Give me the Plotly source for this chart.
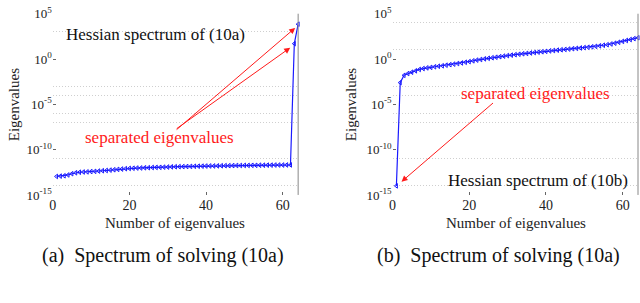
import plotly.graph_objects as go

# ---- data ----
n_eig = list(range(1, 65))

eig_10a = [1.1e-13, 1.2e-13, 1.3e-13, 1.6e-13, 2.2e-13, 2.8e-13, 3.2e-13, 3.4e-13,
           3.5e-13, 3.8e-13, 4.0e-13, 4.3e-13, 4.7e-13, 5.0e-13, 5.5e-13, 6.0e-13,
           6.6e-13, 7.2e-13, 7.9e-13, 8.5e-13, 8.9e-13, 9.3e-13, 9.5e-13, 1.0e-12,
           1.02e-12, 1.07e-12, 1.1e-12, 1.12e-12, 1.17e-12, 1.2e-12, 1.26e-12, 1.29e-12,
           1.32e-12, 1.35e-12, 1.38e-12, 1.41e-12, 1.45e-12, 1.48e-12, 1.51e-12, 1.55e-12,
           1.58e-12, 1.58e-12, 1.62e-12, 1.66e-12, 1.70e-12, 1.70e-12, 1.74e-12, 1.78e-12,
           1.78e-12, 1.82e-12, 1.82e-12, 1.86e-12, 1.86e-12, 1.91e-12, 1.91e-12, 1.95e-12,
           1.95e-12, 2.0e-12, 2.0e-12, 2.0e-12, 2.04e-12, 2.04e-12, 50.0, 7.0e3]

eig_10b = [1.0e-14, 2.5e-3, 1.6e-2, 2.5e-2, 3.5e-2, 5.0e-2, 7.1e-2, 8.9e-2,
           0.105, 0.12, 0.14, 0.16, 0.18, 0.21, 0.24, 0.275,
           0.32, 0.37, 0.44, 0.52, 0.63, 0.76, 0.89, 1.05,
           1.2, 1.38, 1.58, 1.82, 2.09, 2.4, 2.69, 3.02,
           3.39, 3.8, 4.17, 4.68, 5.25, 5.75, 6.31, 7.08,
           7.94, 8.71, 9.55, 10.5, 11.5, 12.6, 13.8, 15.1,
           16.6, 18.2, 20.0, 22.4, 25.1, 28.8, 33.1, 38.0,
           45.7, 56.2, 70.8, 89.1, 112.0, 141.0, 178.0, 224.0]

x_ticks = [0, 20, 40, 60]
y_ticks = [1e5, 1e0, 1e-5, 1e-10, 1e-15]
y_tick_text = ["10<sup>5</sup>", "10<sup>0</sup>", "10<sup>-5</sup>",
               "10<sup>-10</sup>", "10<sup>-15</sup>"]
minor_10a = [1e3, 1e-3, 1e-4, 1e-6, 1e-7, 1e-11, 1e-14]
minor_10b = [1e4, 1e1, 1e-3, 1e-4, 1e-6, 1e-7, 1e-11, 1e-14]

FONT = "Liberation Serif"
BLUE = "#1a1aff"
RED = "#ff1a1a"

fig = go.Figure()
for eig, xa, ya in [(eig_10a, "x", "y"), (eig_10b, "x2", "y2")]:
    fig.add_trace(go.Scatter(
        x=n_eig, y=eig, xaxis=xa, yaxis=ya, mode="lines+markers",
        line=dict(color=BLUE, width=1.2),
        marker=dict(symbol="triangle-left-open", size=4, color=BLUE,
                    line=dict(width=1, color=BLUE)),
        showlegend=False, cliponaxis=False))

ydom = [1 - 197 / 303, 1 - 5 / 303]
xdom1 = [49 / 640, 296 / 640]
xdom2 = [391 / 640, 638 / 640]

def xaxis(dom, anchor):
    return dict(domain=dom, anchor=anchor, range=[0, 64], tickvals=x_ticks,
                ticks="inside", ticklen=3, tickcolor="#666", showgrid=False,
                zeroline=False, showline=False,
                tickfont=dict(family=FONT, size=14, color="#222"))

def yaxis(anchor, minor_vals):
    return dict(domain=ydom, anchor=anchor, type="log", range=[-15.001, 5.001],
                tickmode="array", tickvals=y_ticks, ticktext=y_tick_text,
                ticks="inside", ticklen=3, tickcolor="#666", showgrid=False,
                zeroline=False, showline=False, ticklabeloverflow="allow",
                tickfont=dict(family=FONT, size=13, color="#222"),
                minor=dict(tickmode="array", tickvals=minor_vals, showgrid=True,
                           gridcolor="#cfcfcf", griddash="1px,2px", gridwidth=1,
                           ticks=""))

fig.update_layout(
    width=640, height=303, margin=dict(l=0, r=0, t=0, b=0),
    paper_bgcolor="white", plot_bgcolor="white",
    xaxis=xaxis(xdom1, "y"), yaxis=yaxis("x", minor_10a),
    xaxis2=xaxis(xdom2, "y2"), yaxis2=yaxis("x2", minor_10b),
)

# solid light grid lines at 10^0 and 10^-10, right-hand box edge
for xr, yr in [("x", "y"), ("x2", "y2")]:
    for lv in [0, -10]:
        fig.add_shape(type="line", xref=f"{xr} domain", yref=yr, x0=0, x1=1,
                      y0=lv, y1=lv, line=dict(color="#e0e0e0", width=1), layer="below")
    fig.add_shape(type="line", xref=f"{xr} domain", yref=f"{yr} domain", x0=1, x1=1,
                  y0=0, y1=1, line=dict(color="#888", width=1))

def pa(px, py):
    return px / 640, 1 - py / 303

ann = []
def text_ann(t, px, py, size, color, angle=0):
    x, y = pa(px, py)
    ann.append(dict(text=t, x=x, y=y, xref="paper", yref="paper", showarrow=False,
                    xanchor="center", yanchor="middle", textangle=angle,
                    font=dict(family=FONT, size=size, color=color)))

# axis titles
for cx in [172, 515]:
    text_ann("Number of eigenvalues", cx, 227, 15, "#222")
for cx in [10, 350]:
    text_ann("Eigenvalues", cx, 101, 15, "#222", angle=-90)
# captions
text_ann("(a)  Spectrum of solving (10a)", 160, 261, 20, "#111")
text_ann("(b)  Spectrum of solving (10a)", 498, 261, 20, "#111")
# in-plot texts
text_ann("Hessian spectrum of (10a)", 152, 27, 17, "#111")
text_ann("separated eigenvalues", 156, 136, 17, RED)
text_ann("Hessian spectrum of (10b)", 537, 182, 17, "#111")
text_ann("separated eigenvalues", 535, 90, 17, RED)

# arrows
for (hx, hy), (tx, ty) in [((293, 20), (173, 123)), ((288, 41), (173, 123)),
                           ((400, 183), (493, 103))]:
    x, y = pa(hx, hy)
    ann.append(dict(text="", x=x, y=y, xref="paper", yref="paper", showarrow=True,
                    ax=tx - hx, ay=ty - hy, axref="pixel", ayref="pixel",
                    arrowhead=2, arrowsize=1.2, arrowwidth=1, arrowcolor=RED,
                    standoff=0))
fig.update_layout(annotations=ann)

fig.write_html("out.html", config={"displayModeBar": False},
               post_script="document.body.style.margin='0';")
